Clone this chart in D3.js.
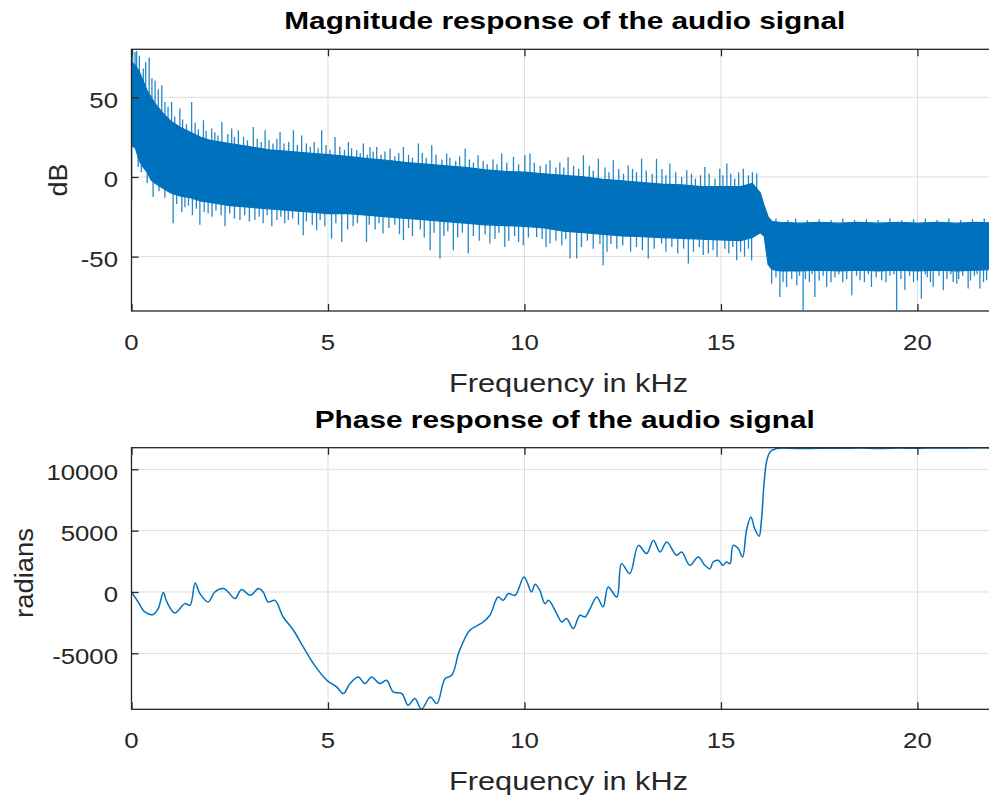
<!DOCTYPE html>
<html><head><meta charset="utf-8">
<script src="https://cdn.jsdelivr.net/npm/d3@7"></script>
<style>body{margin:0;background:#fff;overflow:hidden}</style>
</head><body>
<svg id="c" width="989" height="797"></svg>
<script>
// ---------- data ----------
const xTicks = [0, 5, 10, 15, 20];
const magTicks = [-50, 0, 50];
const phaseTicks = [-5000, 0, 5000, 10000];

// magnitude (dB): dense core band
const magFreq = [0, 0.1, 0.2, 0.3, 0.4, 0.5, 0.6, 0.8, 1.0, 1.25, 1.5, 1.75, 2.0, 2.5, 3.0, 3.5, 4.0, 4.5, 5.0, 5.5, 6.0, 6.5, 7.0, 7.5, 8.0, 8.5, 9.0, 9.5, 10.0, 10.5, 11.0, 11.5, 12.0, 12.5, 13.0, 13.5, 14.0, 14.5, 15.0, 15.5, 15.8, 16.0, 16.1, 16.2, 16.3, 16.5, 17.0, 17.5, 18.0, 18.5, 19.0, 19.5, 20.0, 20.5, 21.0, 21.5, 22.05];
const magHigh = [72, 70, 66, 60, 54, 50, 46, 40, 35, 31, 28, 25, 23, 21, 19, 17, 16, 15, 14, 13, 11.5, 10.5, 9, 8, 7, 6, 4.5, 3.5, 3, 2, 1, 0, -1.5, -2.5, -3.5, -4.5, -5, -6, -6, -6, -4, -10, -18, -25, -28, -28.5, -29, -28.5, -29, -28.5, -29, -28.5, -29, -28.5, -29, -28.5, -29];
const magLow = [20, 18, 10, 6, 3, -2, -4, -7, -10, -12, -13, -15, -16, -18, -19, -20, -21, -22, -23, -23, -24, -25, -26, -27, -28, -29, -30, -30.5, -31, -32, -34, -35, -36, -37, -37.5, -38, -38.5, -39, -39.5, -40, -38, -35, -37, -55, -58, -59, -59, -58.5, -59, -58.5, -59, -58.5, -59, -58.5, -59, -58.5, -58];
// peaks above the band [kHz, dB]
const magPeaks = [[0.03, 80], [0.09, 78.4], [0.13, 79], [0.2, 76], [0.45, 75], [0.6, 60.6], [0.77, 57.5], [0.85, 47], [1.02, 47], [1.23, 43], [1.53, 47], [1.83, 35.6], [2.04, 30.4], [2.3, 34.5], [2.55, 30.4], [2.72, 29.3], [3.1, 31.4], [3.4, 29.3], [3.78, 28.2], [4.12, 29.3], [4.33, 26], [4.84, 29.3], [5.18, 25], [5.52, 22], [5.73, 16.7], [5.9, 21], [6.07, 18.8], [6.24, 18.8], [6.58, 17.8], [6.92, 18.8], [7.3, 21], [7.64, 19.9], [8.02, 14.7], [8.49, 17.8], [8.82, 13.6], [9.42, 14.7], [9.72, 12.5], [10.01, 13.6], [10.14, 14.7], [10.65, 10.5], [11.11, 12.5], [11.5, 13.6], [11.88, 11.5], [12.26, 10.5], [12.64, 7.3], [12.98, 11.5], [13.36, 11.5], [13.7, 8.4], [14.13, 4.2], [14.59, 6.3], [14.97, 5.2], [15.15, 8.4], [15.57, 5.2], [15.91, 2.1],
  [0.3, 68], [0.36, 72], [0.52, 62], [0.68, 55], [0.93, 44], [1.1, 38], [1.3, 36], [1.4, 33], [1.62, 34], [1.7, 30], [1.9, 29], [2.12, 28], [2.2, 26], [2.45, 27], [2.62, 25], [2.85, 25], [2.95, 23], [3.2, 24], [3.3, 22], [3.5, 23], [3.6, 21], [3.7, 24], [3.88, 21], [4.0, 22], [4.22, 20], [4.45, 21], [4.55, 19], [4.65, 22], [4.75, 18], [4.95, 20], [5.05, 17], [5.3, 19], [5.42, 17], [5.6, 18],
  [5.82, 15], [6.0, 14], [6.15, 16], [6.35, 14], [6.45, 16], [6.7, 13], [6.8, 15], [7.05, 14], [7.15, 12], [7.4, 15], [7.5, 12], [7.75, 14], [7.9, 11], [8.1, 12], [8.25, 10], [8.35, 13], [8.6, 11], [8.7, 9], [8.95, 10], [9.05, 8], [9.2, 11], [9.3, 8], [9.55, 9], [9.85, 8], [10.25, 9], [10.4, 7], [10.55, 8], [10.8, 6], [10.9, 9], [11.0, 6], [11.25, 7], [11.38, 5], [11.65, 7], [11.75, 4], [12.05, 6], [12.15, 3], [12.4, 5], [12.52, 2], [12.75, 5], [12.85, 3], [13.1, 4], [13.25, 2], [13.5, 5], [13.6, 1], [13.85, 3], [14.0, 0], [14.25, 2], [14.35, -1], [14.48, 1], [14.7, 2], [14.85, -1], [15.05, 1], [15.25, 2], [15.35, -1], [15.45, 3], [15.7, 1], [15.8, 3],
  [16.4, -26], [16.7, -27], [16.9, -26], [17.2, -27], [17.5, -26.5], [17.8, -27], [18.1, -26], [18.4, -27], [18.7, -26.5], [19.0, -27], [19.3, -26], [19.6, -27], [19.9, -26.5], [20.2, -26], [20.5, -27], [20.8, -26], [21.1, -27], [21.4, -26.5], [21.7, -26], [22.0, -27]];
// dips below the band [kHz, dB]
const magDips = [[0.005, -14.6], [0.17, 6.3], [0.55, -12.5], [1.06, -29], [1.36, -19], [1.74, -30], [1.95, -23], [2.38, -31], [2.76, -27], [3.14, -27], [3.57, -31], [3.99, -27], [4.37, -36.6], [4.71, -33.4], [5.09, -38.7], [5.35, -40.8], [5.64, -31], [5.98, -40.8], [6.4, -35.5], [6.92, -39.7], [7.6, -46], [7.85, -51.2], [8.19, -46], [8.57, -48], [9.12, -41.8], [9.5, -44], [9.97, -42.8], [10.31, -37.6], [10.65, -41.8], [11.16, -51.2], [11.33, -51.2], [12.0, -55.4], [13.15, -51.2], [13.49, -41.8], [14.17, -54.3], [14.68, -48], [15.4, -52.3], [15.78, -52.3], [16.29, -67], [16.5, -75.3], [16.67, -69], [16.8, -64], [16.93, -68], [17.09, -83.6], [17.25, -66], [17.39, -75.3], [17.69, -69], [17.9, -63], [18.1, -66], [18.33, -74.2], [18.54, -64.8], [18.83, -69], [19.09, -64.8], [19.3, -62], [19.47, -83.6], [19.68, -71], [19.9, -66], [20.1, -76.3], [20.25, -63], [20.4, -69], [20.66, -71], [20.91, -65.9], [21.05, -64], [21.29, -70], [21.45, -62], [21.59, -70], [21.76, -64.8], [21.9, -66],
  [0.25, 3], [0.4, -4], [0.7, -9], [0.85, -13], [1.15, -17], [1.28, -22], [1.45, -18], [1.55, -24], [1.65, -20], [1.85, -22], [2.05, -25], [2.15, -21], [2.28, -24], [2.5, -23], [2.62, -26], [2.88, -24], [3.0, -28], [3.25, -25], [3.35, -29], [3.45, -24], [3.7, -27], [3.8, -25], [3.9, -29], [4.1, -26], [4.25, -30], [4.45, -28], [4.6, -30], [4.8, -27], [4.92, -31], [5.2, -29], [5.5, -33], [5.75, -29],
  [6.05, -30], [6.2, -33], [6.3, -29], [6.55, -32], [6.7, -30], [6.82, -36], [7.05, -32], [7.15, -37], [7.35, -33], [7.45, -38], [7.7, -35], [7.95, -37], [8.05, -34], [8.3, -38], [8.42, -35], [8.7, -37], [8.85, -40], [9.0, -36], [9.25, -39], [9.35, -35], [9.6, -40], [9.75, -37], [9.85, -41], [10.1, -38], [10.45, -39], [10.55, -44], [10.8, -40], [10.95, -43], [11.05, -39], [11.45, -44], [11.6, -40], [11.75, -45], [11.92, -42], [12.1, -47], [12.2, -42], [12.35, -45], [12.5, -43], [12.7, -47], [12.85, -44], [13.0, -46], [13.3, -45], [13.6, -47], [13.75, -44], [13.9, -48], [14.05, -45], [14.3, -47], [14.45, -44], [14.55, -49], [14.8, -46], [14.9, -50], [15.1, -45], [15.2, -48], [15.3, -44], [15.5, -47], [15.6, -50], [15.7, -45],
  [16.4, -63], [16.58, -66], [17.0, -62], [17.15, -64], [17.32, -61], [17.5, -65], [17.6, -62], [17.8, -66], [18.0, -61], [18.2, -64], [18.45, -62], [18.65, -66], [18.75, -61], [18.95, -63], [19.2, -66], [19.4, -61], [19.58, -64], [19.8, -62], [20.0, -65], [20.2, -61], [20.33, -66], [20.55, -62], [20.75, -64], [20.85, -61], [21.0, -67], [21.15, -62], [21.35, -65], [21.52, -61], [21.68, -66], [21.85, -62], [22.0, -64]];

// phase (radians)
const phaseFreq = [0, 0.17, 0.34, 0.55, 0.68, 0.81, 0.9, 1.1, 1.36, 1.49, 1.62, 1.74, 1.95, 2.12, 2.34, 2.46, 2.63, 2.8, 3.02, 3.23, 3.35, 3.48, 3.65, 3.86, 4.12, 4.37, 4.63, 4.97, 5.22, 5.39, 5.56, 5.77, 5.94, 6.11, 6.32, 6.49, 6.66, 6.88, 7.04, 7.21, 7.38, 7.6, 7.77, 7.98, 8.15, 8.32, 8.44, 8.61, 8.82, 8.95, 9.12, 9.33, 9.46, 9.59, 9.76, 9.99, 10.18, 10.27, 10.39, 10.52, 10.61, 10.82, 10.95, 11.07, 11.24, 11.41, 11.54, 11.67, 11.84, 12.0, 12.13, 12.35, 12.47, 12.68, 12.9, 13.11, 13.28, 13.45, 13.62, 13.87, 14.0, 14.21, 14.42, 14.59, 14.72, 14.8, 14.93, 15.05, 15.14, 15.23, 15.31, 15.44, 15.55, 15.65, 15.76, 15.86, 15.97, 16.03, 16.09, 16.16, 16.25, 16.42, 17.0, 17.5, 18.0, 18.5, 19.0, 19.5, 20.0, 20.5, 21.0, 21.5, 22.05];
const phaseVal = [0, -815, -1630, -1840, -1355, -50, -815, -1710, -950, -1080, 735, -130, -815, 0, 275, 0, -540, 195, -270, 275, 0, -815, -680, -2040, -3120, -4480, -5840, -7200, -7740, -8280, -7470, -6930, -7470, -6930, -7470, -7200, -8150, -8280, -9230, -8690, -9560, -8560, -9100, -7060, -6790, -5020, -4075, -3120, -2710, -2445, -1900, -410, -680, -130, -270, 1220, 0, 630, 140, -950, -680, -1760, -2445, -2170, -2980, -1900, -2040, -1355, -410, -1220, 410, -410, 2310, 1500, 3800, 3130, 4210, 3260, 4075, 2990, 3260, 2175, 2850, 2175, 1900, 2445, 2580, 2175, 2445, 2310, 3800, 3535, 2850, 5030, 6110, 5160, 4540, 5840, 8560, 10600, 11410, 11700, 11690, 11720, 11710, 11740, 11700, 11730, 11720, 11740, 11730, 11750, 11740];

// ---------- drawing ----------
const BLUE = "#0072BD", INK = "#262626", GRID = "#dedede";
const FONT = "'Liberation Sans', Arial, Helvetica, sans-serif";
const X0 = 131.5, X1 = 998;
const svg = d3.select("#c");

function makePanel(cfg) {
  const x = d3.scaleLinear([0, 22.05], [X0, X1]);
  const y = d3.scaleLinear(cfg.yDomain, [cfg.bottom, cfg.top]);
  const g = svg.append("g");
  const cid = "clip" + cfg.id;
  g.append("clipPath").attr("id", cid).append("rect")
    .attr("x", X0).attr("y", cfg.top).attr("width", X1 - X0).attr("height", cfg.bottom - cfg.top);
  // grid
  g.append("g").selectAll("line").data(xTicks).join("line")
    .attr("x1", d => x(d)).attr("x2", d => x(d)).attr("y1", cfg.top).attr("y2", cfg.bottom)
    .attr("stroke", GRID).attr("stroke-width", 1);
  g.append("g").selectAll("line").data(cfg.yTicks).join("line")
    .attr("y1", d => y(d)).attr("y2", d => y(d)).attr("x1", X0).attr("x2", X1)
    .attr("stroke", GRID).attr("stroke-width", 1);
  const plot = g.append("g").attr("clip-path", `url(#${cid})`);
  cfg.draw(plot, x, y);
  // box
  g.append("rect").attr("x", X0).attr("y", cfg.top).attr("width", X1 - X0).attr("height", cfg.bottom - cfg.top)
    .attr("fill", "none").attr("stroke", INK).attr("stroke-width", 1.3);
  // ticks (inward)
  const ax = g.append("g").attr("transform", `translate(0,${cfg.bottom})`)
    .call(d3.axisBottom(x).tickValues(xTicks).tickSize(-7).tickFormat(""));
  const axT = g.append("g").attr("transform", `translate(0,${cfg.top})`)
    .call(d3.axisTop(x).tickValues(xTicks).tickSize(-7).tickFormat(""));
  const axL = g.append("g").attr("transform", `translate(${X0},0)`)
    .call(d3.axisLeft(y).tickValues(cfg.yTicks).tickSize(-7).tickFormat(""));
  [ax, axT, axL].forEach(a => {
    a.select(".domain").remove();
    a.selectAll(".tick line").attr("stroke", INK).attr("stroke-width", 1.3);
  });
  // tick labels
  const SX = 1.12;
  g.append("g").selectAll("text").data(xTicks).join("text")
    .attr("transform", d => `translate(${x(d)},${cfg.bottom + 39}) scale(${SX},1)`)
    .attr("text-anchor", "middle").attr("font-family", FONT).attr("font-size", 23).attr("fill", INK)
    .text(d => d);
  g.append("g").selectAll("text").data(cfg.yTicks).join("text")
    .attr("transform", d => `translate(${X0 - 13.5},${y(d) + 10.5}) scale(${SX},1)`)
    .attr("text-anchor", "end").attr("font-family", FONT).attr("font-size", 23).attr("fill", INK)
    .text(d => d);
  // title
  g.append("text").attr("x", (X0 + X1) / 2).attr("y", cfg.top - 20)
    .attr("text-anchor", "middle").attr("font-family", FONT).attr("font-weight", "bold")
    .attr("font-size", 24).attr("fill", "#000")
    .attr("textLength", cfg.titleLen).attr("lengthAdjust", "spacingAndGlyphs")
    .text(cfg.title);
  // x label
  g.append("text").attr("x", 568.5).attr("y", cfg.bottom + 80.7)
    .attr("text-anchor", "middle").attr("font-family", FONT).attr("font-size", 26).attr("fill", INK)
    .attr("textLength", 239).attr("lengthAdjust", "spacingAndGlyphs")
    .text("Frequency in kHz");
  // y label
  g.append("text").attr("transform", `translate(${cfg.ylabelX},${cfg.ylabelY}) rotate(-90)`)
    .attr("text-anchor", "middle").attr("font-family", FONT).attr("font-size", 26).attr("fill", INK)
    .attr("textLength", cfg.ylabelLen).attr("lengthAdjust", "spacingAndGlyphs")
    .text(cfg.ylabel);
}

makePanel({
  id: "m", top: 49.3, bottom: 311, yDomain: [-84.1, 80.1], yTicks: magTicks,
  title: "Magnitude response of the audio signal", titleLen: 561,
  ylabel: "dB", ylabelX: 66.5, ylabelY: 180, ylabelLen: 33,
  draw(p, x, y) {
    const hi = d3.scaleLinear(magFreq, magHigh);
    const lo = d3.scaleLinear(magFreq, magLow);
    p.append("path").datum(d3.range(magFreq.length))
      .attr("fill", BLUE).attr("stroke", BLUE).attr("stroke-width", 1.2)
      .attr("d", d3.area().x(i => x(magFreq[i])).y0(i => y(magLow[i])).y1(i => y(magHigh[i])));
    p.append("g").selectAll("line").data(magPeaks).join("line")
      .attr("x1", d => x(d[0])).attr("x2", d => x(d[0]))
      .attr("y1", d => y(hi(d[0]) - 2)).attr("y2", d => y(d[1]))
      .attr("stroke", BLUE).attr("stroke-width", 1.3).attr("stroke-opacity", 0.85);
    p.append("g").selectAll("line").data(magDips).join("line")
      .attr("x1", d => x(d[0])).attr("x2", d => x(d[0]))
      .attr("y1", d => y(lo(d[0]) + 2)).attr("y2", d => y(d[1]))
      .attr("stroke", BLUE).attr("stroke-width", 1.3).attr("stroke-opacity", 0.85);
  }
});

makePanel({
  id: "p", top: 447.7, bottom: 709.3, yDomain: [-9564, 11761], yTicks: phaseTicks,
  title: "Phase response of the audio signal", titleLen: 500,
  ylabel: "radians", ylabelX: 33, ylabelY: 573, ylabelLen: 90,
  draw(p, x, y) {
    p.append("path").datum(d3.range(phaseFreq.length))
      .attr("fill", "none").attr("stroke", BLUE).attr("stroke-width", 1.5).attr("stroke-linejoin", "round")
      .attr("d", d3.line().curve(d3.curveCatmullRom).x(i => x(phaseFreq[i])).y(i => y(phaseVal[i])));
  }
});
</script>
</body></html>
